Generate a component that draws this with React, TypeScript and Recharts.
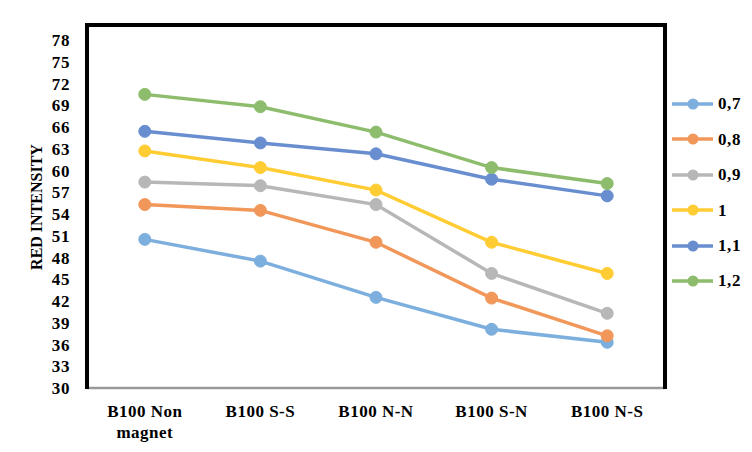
import React from 'react';
import { LineChart, Line, XAxis, YAxis, Legend } from 'recharts';

const categories = ['B100 Non magnet', 'B100 S-S', 'B100 N-N', 'B100 S-N', 'B100 N-S'];
const seriesNames = ['0,7', '0,8', '0,9', '1', '1,1', '1,2'];
const s07 = [50.5, 47.5, 42.5, 38.1, 36.3];
const s08 = [55.3, 54.5, 50.1, 42.4, 37.2];
const s09 = [58.4, 57.9, 55.3, 45.8, 40.3];
const s10 = [62.7, 60.4, 57.3, 50.1, 45.8];
const s11 = [65.4, 63.8, 62.3, 58.8, 56.5];
const s12 = [70.5, 68.8, 65.3, 60.4, 58.2];
const yTicks = [30, 33, 36, 39, 42, 45, 48, 51, 54, 57, 60, 63, 66, 69, 72, 75, 78];

const seriesValues = [s07, s08, s09, s10, s11, s12];
const colors = ['#7CAFDD', '#F1975A', '#B7B7B7', '#FFCD33', '#698ED0', '#8DBD6C'];

const data = categories.map((c, i) => {
  const row: Record<string, any> = { name: c };
  seriesNames.forEach((s, j) => {
    row[s] = seriesValues[j][i];
  });
  return row;
});

const FONT = '"Liberation Serif", "Times New Roman", serif';

function wrap(label: string, maxChars: number): string[] {
  const words = label.split(' ');
  const lines: string[] = [];
  let cur = '';
  words.forEach((w) => {
    const next = cur ? cur + ' ' + w : w;
    if (next.length > maxChars && cur) {
      lines.push(cur);
      cur = w;
    } else {
      cur = next;
    }
  });
  if (cur) lines.push(cur);
  return lines;
}

const XTick = (props: any) => {
  const { x, y, payload } = props;
  const lines = wrap(String(payload.value), 9);
  return (
    <text
      x={x}
      y={y}
      textAnchor="middle"
      fontFamily={FONT}
      fontWeight="bold"
      fontSize={17}
      letterSpacing={0.5}
      fill="#000"
    >
      {lines.map((l, i) => (
        <tspan key={i} x={x} dy={i === 0 ? 29 : 21}>
          {l}
        </tspan>
      ))}
    </text>
  );
};

const LegendContent = (props: any) => {
  const { payload } = props;
  return (
    <div style={{ display: 'flex', flexDirection: 'column' }}>
      {(payload || []).map((p: any, i: number) => (
        <div
          key={i}
          style={{ height: 35.4, display: 'flex', alignItems: 'center' }}
        >
          <svg width={42} height={14} style={{ display: 'block' }}>
            <line x1={0} y1={7} x2={41} y2={7} stroke={p.color} strokeWidth={3.5} />
            <circle cx={21} cy={7} r={5.5} fill={p.color} />
          </svg>
          <span
            style={{
              marginLeft: 4,
              fontFamily: FONT,
              fontWeight: 'bold',
              fontSize: 17,
              letterSpacing: 0.6,
              color: '#000',
              lineHeight: '17px',
            }}
          >
            {p.value}
          </span>
        </div>
      ))}
    </div>
  );
};

export default function App() {
  return (
    <div
      style={{
        position: 'absolute',
        left: 0,
        top: 0,
        width: 752,
        height: 452,
        background: '#fff',
        overflow: 'hidden',
      }}
    >
      <LineChart
        width={752}
        height={452}
        data={data}
        margin={{ top: 25.5, right: 87, bottom: 0, left: 0 }}
      >
        <XAxis
          dataKey="name"
          height={64}
          tick={<XTick />}
          tickLine={false}
          tickSize={0}
          tickMargin={0}
          interval={0}
          padding={{ left: 57.8, right: 57.8 }}
          axisLine={{ stroke: '#9a9a9a', strokeWidth: 2.5 }}
        />
        <YAxis
          width={87}
          domain={[30, 80]}
          ticks={yTicks}
          interval={0}
          axisLine={false}
          tickLine={false}
          tickSize={0}
          tickMargin={17}
          tick={{ fontFamily: FONT, fontWeight: 'bold', fontSize: 17, letterSpacing: 0.6, fill: '#000' }}
          label={{
            content: () => (
              <text
                x={36}
                y={207}
                transform="rotate(-90 36 207)"
                textAnchor="middle"
                dominantBaseline="central"
                fontFamily={FONT}
                fontWeight="bold"
                fontSize={16}
                fill="#000"
              >
                RED INTENSITY
              </text>
            ),
          }}
        />
        <Legend
          layout="horizontal"
          align="center"
          verticalAlign="middle"
          content={<LegendContent />}
          wrapperStyle={{ left: 672, top: 86.3, width: 80, height: 215 }}
        />
        {seriesNames.map((s, j) => (
          <Line
            key={s}
            type="linear"
            dataKey={s}
            name={s}
            stroke={colors[j]}
            strokeWidth={3.5}
            dot={{ r: 6, fill: colors[j], stroke: colors[j], strokeWidth: 1 }}
            activeDot={false}
            isAnimationActive={false}
          />
        ))}
      </LineChart>
      <div
        style={{
          position: 'absolute',
          left: 85,
          top: 22.7,
          width: 581.7,
          height: 366,
          boxSizing: 'border-box',
          borderTop: '4px solid #000',
          borderLeft: '4px solid #000',
          borderRight: '4px solid #000',
          pointerEvents: 'none',
        }}
      />
    </div>
  );
}
